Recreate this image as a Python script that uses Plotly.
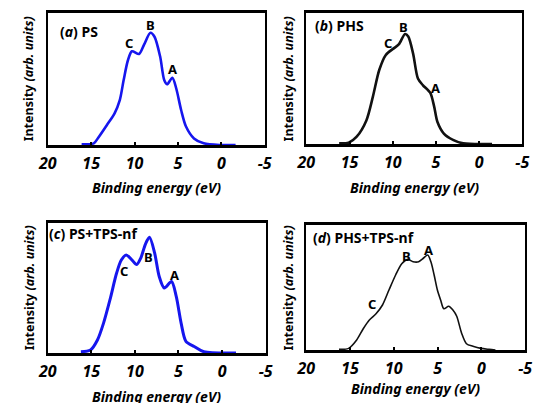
import plotly.graph_objects as go

# ---- data (binding energy in eV, intensity normalised, arb. units) ----
ps_x = [16.1, 14.7, 14.1, 13.2, 12.3, 11.7, 11.26, 10.77, 10.3, 9.48, 8.9, 8.17, 7.7, 7.05, 6.57, 6.24, 5.64, 5.2, 4.63, 4.07, 3.15, 2.03, 0.17, -1.65]
ps_y = [0.005, 0.013, 0.063, 0.15, 0.24, 0.34, 0.49, 0.64, 0.71, 0.69, 0.76, 0.85, 0.82, 0.67, 0.49, 0.46, 0.51, 0.43, 0.265, 0.14, 0.05, 0.013, 0.0, 0.0]

phs_x = [16.2, 15.1, 14.17, 13.05, 12.3, 11.56, 10.8, 9.88, 9.3, 8.57, 8.2, 7.64, 7.08, 6.52, 5.65, 5.2, 4.83, 4.08, 2.96, 1.84, -1.5]
phs_y = [0.005, 0.01, 0.056, 0.18, 0.36, 0.565, 0.68, 0.73, 0.76, 0.84, 0.82, 0.69, 0.50, 0.45, 0.39, 0.285, 0.17, 0.08, 0.03, 0.005, 0.0]

pstps_x = [16.2, 15.1, 14.3, 13.6, 12.86, 12.1, 11.56, 11.0, 10.33, 9.8, 9.33, 8.78, 8.33, 7.74, 7.22, 6.63, 5.8, 5.26, 4.7, 4.15, 3.2, 2.1, -1.6]
pstps_y = [0.01, 0.023, 0.1, 0.23, 0.41, 0.615, 0.715, 0.754, 0.715, 0.68, 0.73, 0.84, 0.89, 0.77, 0.59, 0.50, 0.55, 0.435, 0.23, 0.09, 0.05, 0.01, 0.0]

phstps_x = [16.27, 15.17, 14.25, 13.5, 12.8, 12.04, 11.3, 10.56, 9.8, 9.1, 8.42, 7.8, 7.17, 6.7, 6.14, 5.77, 5.4, 5.03, 4.66, 4.29, 3.74, 3.26, 2.82, 2.27, 1.71, 0.97, 0.05, -0.88, -1.6]
phstps_y = [0.005, 0.013, 0.08, 0.17, 0.24, 0.29, 0.36, 0.48, 0.60, 0.69, 0.725, 0.706, 0.706, 0.73, 0.76, 0.706, 0.60, 0.48, 0.40, 0.33, 0.35, 0.32, 0.27, 0.136, 0.05, 0.03, 0.013, 0.005, 0.0]

tick_vals = [20, 15, 10, 5, 0, -5]
tick_text = ["20", "15", "10", "5", "0", "-5"]

panel_titles = ["(<i>a</i>) PS", "(<i>b</i>) PHS", "(<i>c</i>) PS+TPS-nf", "(<i>d</i>) PHS+TPS-nf"]

# peak labels: (label, eV, intensity)
peaks_a = [("C", 10.6, 0.77), ("B", 8.17, 0.91), ("A", 5.6, 0.575)]
peaks_b = [("C", 10.6, 0.77), ("B", 8.7, 0.895), ("A", 5.0, 0.43)]
peaks_c = [("C", 11.3, 0.633), ("B", 8.48, 0.74), ("A", 5.44, 0.60)]
peaks_d = [("C", 12.48, 0.368), ("B", 8.6, 0.755), ("A", 6.0, 0.80)]

W, H = 538, 403
FONT = "Noto Sans"

# panel geometry in pixels: (left, right, top, bottom)
boxes = [(39, 263, 13, 145), (306, 529, 13, 144), (39, 264, 223, 353), (306, 532, 225, 350)]
title_y = [187, 187, 396, 388]
ytitle_x = [20, 288, 20, 288]
ptitle_pos = [(51, 32), (314, 26), (39, 233), (312, 237)]

series = [
    (ps_x, ps_y, "#1616ee", 2.6, peaks_a),
    (phs_x, phs_y, "#111111", 2.6, peaks_b),
    (pstps_x, pstps_y, "#1616ee", 3.0, peaks_c),
    (phstps_x, phstps_y, "#111111", 1.6, peaks_d),
]

fig = go.Figure()
annotations = []
for i, ((xs, ys, col, lw, peaks), (l, r, t, b)) in enumerate(zip(series, boxes)):
    n = "" if i == 0 else str(i + 1)
    xa, ya = "x" + n, "y" + n
    fig.add_trace(go.Scatter(x=xs, y=ys, mode="lines", xaxis=xa, yaxis=ya,
                             line=dict(color=col, width=lw, shape="spline", smoothing=0.8),
                             showlegend=False, hoverinfo="skip"))
    ax = dict(domain=[l / W, r / W], range=[20, -5], tickvals=tick_vals, ticktext=tick_text,
              ticks="inside", ticklen=3, tickwidth=2, tickcolor="black",
              showline=True, linecolor="black", linewidth=2.5, mirror=True,
              showgrid=False, zeroline=False, anchor=ya,
              tickfont=dict(family=FONT, size=16, color="black", weight="bold", style="italic"),
              ticklabelstandoff=2)
    ay = dict(domain=[1 - b / H, 1 - t / H], range=[0, 1], showticklabels=False, ticks="",
              showline=True, linecolor="black", linewidth=2, mirror=True,
              showgrid=False, zeroline=False, anchor=xa)
    fig.update_layout({"xaxis" + n: ax, "yaxis" + n: ay})
    # axis titles
    annotations.append(dict(text="<b><i>Binding energy (eV)</i></b>", xref="paper", yref="paper",
                            x=(l + r) / 2 / W, y=1 - title_y[i] / H, showarrow=False,
                            font=dict(family=FONT, size=14, color="black"),
                            xanchor="center", yanchor="middle"))
    annotations.append(dict(text="<b>Intensity <i>(arb. units)</i></b>", xref="paper", yref="paper",
                            x=ytitle_x[i] / W, y=1 - (t + b) / 2 / H, showarrow=False, textangle=-90,
                            font=dict(family=FONT, size=12.5, color="black"),
                            xanchor="center", yanchor="middle"))
    # panel title
    px0, py0 = ptitle_pos[i]
    annotations.append(dict(text="<b>" + panel_titles[i] + "</b>", xref="paper", yref="paper",
                            x=px0 / W, y=1 - py0 / H, showarrow=False,
                            font=dict(family=FONT, size=14, color="black"),
                            xanchor="left", yanchor="middle", borderpad=0))
    for lab, px, py in peaks:
        annotations.append(dict(text="<b>" + lab + "</b>", xref=xa, yref=ya, x=px, y=py,
                                showarrow=False, font=dict(family=FONT, size=13, color="black"),
                                xanchor="center", yanchor="middle", borderpad=0))

fig.update_layout(width=W, height=H, margin=dict(l=0, r=0, t=0, b=0),
                  paper_bgcolor="white", plot_bgcolor="white", annotations=annotations)
fig.write_html("out.html")
